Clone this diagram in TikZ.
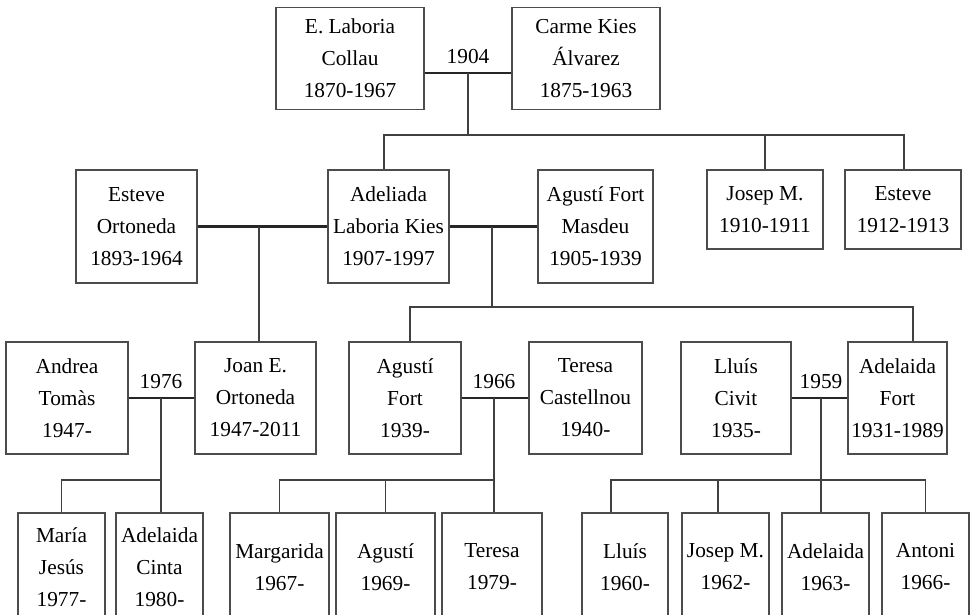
\documentclass[tikz,border=0pt]{standalone}
\usepackage{fontspec}
\setmainfont{Liberation Serif}
\usepackage{tikz}

\tikzset{
  person/.style={draw=black!70, line width=0.9pt, align=center, inner sep=0pt,
                 font=\fontsize{16}{24}\selectfont},
  boxsize/.style 2 args={minimum width=#1*0.75pt, minimum height=#2*0.75pt},
  wedding/.style={line width=2.2pt, black!85},
  descent/.style={line width=1pt, black!75},
  year/.style={above=6.5pt, inner sep=0pt, font=\fontsize{16}{24}\selectfont}
}

\begin{document}
\begin{tikzpicture}[x=0.75pt, y=-0.75pt]
        \useasboundingbox (0,0) rectangle (970,614);
        \clip (0,0) rectangle (970,614);
        % first generation
        \node[person, boxsize={148}{102}] (laboria) at (350,58.5) {E. Laboria\\Collau\\1870-1967};
        \node[person, boxsize={148}{102}] (kies)    at (586,58.5) {Carme Kies\\Álvarez\\1875-1963};
        % second generation
        \node[person, boxsize={121}{113}] (esteve)   at (136.5,226.5) {Esteve\\Ortoneda\\1893-1964};
        \node[person, boxsize={121}{113}] (adeliada) at (388.5,226.5) {Adeliada\\Laboria Kies\\1907-1997};
        \node[person, boxsize={115}{113}] (fort)     at (595.5,226.5) {Agustí Fort\\Masdeu\\1905-1939};
        \node[person, boxsize={116}{79}]  (josep)    at (765,209.5)   {Josep M.\\1910-1911};
        \node[person, boxsize={116}{79}]  (esteveb)  at (903,209.5)   {Esteve\\1912-1913};
        % third generation
        \node[person, boxsize={122}{112}] (andrea)   at (67,398)    {Andrea\\Tomàs\\1947-};
        \node[person, boxsize={121}{112}] (joan)     at (255.5,398) {Joan E.\\Ortoneda\\1947-2011};
        \node[person, boxsize={112}{112}] (fortb)    at (405,398)   {Agustí\\Fort\\1939-};
        \node[person, boxsize={113}{112}] (teresa)   at (585.5,398) {Teresa\\Castellnou\\1940-};
        \node[person, boxsize={110}{112}] (lluis)    at (736,398)   {Lluís\\Civit\\1935-};
        \node[person, boxsize={99}{112}]  (adelaida) at (897.5,398) {Adelaida\\Fort\\1931-1989};
        % fourth generation
        \node[person, boxsize={87}{108}]  (maria)     at (61.5,567)  {María\\Jesús\\1977-};
        \node[person, boxsize={87}{108}]  (cinta)     at (159.5,567) {Adelaida\\Cinta\\1980-};
        \node[person, boxsize={99}{108}]  (margarida) at (279.5,567) {Margarida\\1967-};
        \node[person, boxsize={99}{108}]  (agustic)   at (385.5,567) {Agustí\\1969-};
        \node[person, boxsize={100}{108}] (teresab)   at (492,567)   {Teresa\\1979-};
        \node[person, boxsize={86}{108}]  (lluisb)    at (625,567)   {Lluís\\1960-};
        \node[person, boxsize={87}{108}]  (josepb)    at (725.5,567) {Josep M.\\1962-};
        \node[person, boxsize={87}{108}]  (adelaidab) at (825.5,567) {Adelaida\\1963-};
        \node[person, boxsize={87}{108}]  (antoni)    at (925.5,567) {Antoni\\1966-};
        % marriages
        \coordinate (m1904) at (468,73);
        \draw[wedding] (laboria.east |- m1904) -- (kies.west |- m1904);
        \node[year] (y1904) at (m1904) {1904};
        \coordinate (m2) at (259,226.5);
        \coordinate (m3) at (492,226.5);
        \draw[wedding] (esteve) -- (adeliada);
        \draw[wedding] (adeliada) -- (fort);
        \coordinate (m1976) at (161,398);
        \coordinate (m1966) at (494,398);
        \coordinate (m1959) at (821,398);
        \draw[wedding] (andrea) -- (joan);
        \draw[wedding] (fortb) -- (teresa);
        \draw[wedding] (lluis) -- (adelaida);
        \node[year] (y1976) at (m1976) {1976};
        \node[year] (y1966) at (m1966) {1966};
        \node[year] (y1959) at (m1959) {1959};
        % children of 1904
        \coordinate (bar1l) at (384,135);
        \coordinate (bar1r) at (904,135);
        \draw[descent] (m1904) -- (m1904 |- bar1l);
        \draw[descent] (adeliada.north -| bar1l) |- (bar1r) -- (esteveb.north -| bar1r);
        \draw[descent] (josep) -- (josep |- bar1l);
        % children of Esteve and Adeliada
        \draw[descent] (m2) -- (m2 |- joan.north);
        % children of Adeliada and Agusti
        \coordinate (bar2l) at (410,307);
        \coordinate (bar2r) at (913,307);
        \draw[descent] (m3) -- (m3 |- bar2l);
        \draw[descent] (fortb.north -| bar2l) |- (bar2r) -- (adelaida.north -| bar2r);
        % children of 1976
        \coordinate (bar3) at (62,480);
        \draw[descent] (m1976) -- (m1976 |- cinta.north);
        \draw[descent] (maria) |- (m1976 |- bar3);
        % children of 1966
        \draw[descent] (m1966) -- (m1966 |- teresab.north);
        \draw[descent] (margarida) |- (m1966 |- bar3);
        \draw[descent] (agustic) -- (agustic |- bar3);
        % children of 1959
        \coordinate (bar4l) at (611,480);
        \coordinate (bar4m) at (718,480);
        \draw[descent] (m1959) -- (m1959 |- adelaidab.north);
        \draw[descent] (lluisb.north -| bar4l) |- (antoni.north |- bar4l) -- (antoni.north);
        \draw[descent] (bar4m) -- (bar4m |- josepb.north);
\end{tikzpicture}
\end{document}
